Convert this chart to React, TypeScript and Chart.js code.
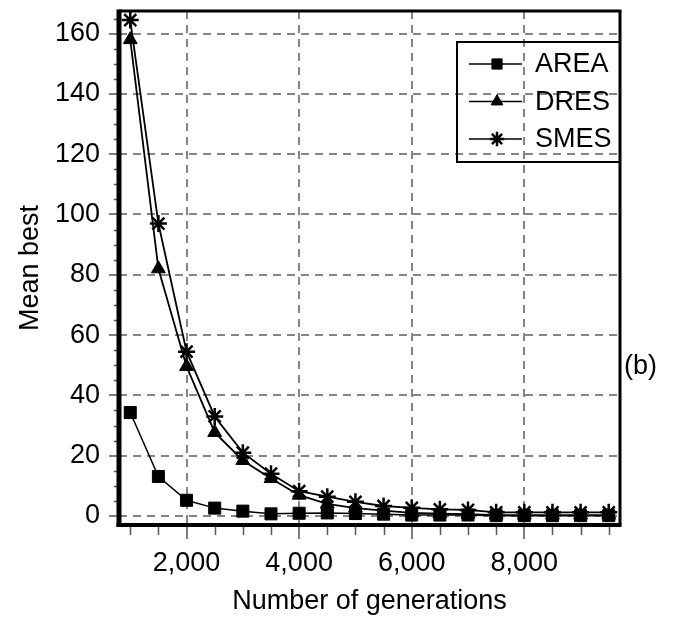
import React, { useEffect, useRef } from 'react';
import { Chart, registerables } from 'chart.js';
import { drawPoint } from 'chart.js/helpers';

Chart.register(...registerables);

// ---- data ----
const generations = [1000, 1500, 2000, 2500, 3000, 3500, 4000, 4500, 5000, 5500, 6000, 6500, 7000, 7500, 8000, 8500, 9000, 9500];
const areaValues = [34.3, 13.1, 5.2, 2.6, 1.6, 0.7, 0.9, 1.0, 0.8, 0.6, 0.3, 0.3, 0.3, 0.1, 0.1, 0.1, 0.1, 0.1];
const dresValues = [158, 82, 49.6, 27.7, 18.4, 12.4, 6.9, 4.0, 2.6, 1.8, 1.0, 0.8, 0.6, 0.3, 0.3, 0.3, 0.3, 0.3];
const smesValues = [164.5, 97, 54.5, 33, 21, 14, 8.2, 6.4, 4.7, 3.3, 2.7, 2.2, 2.0, 1.2, 1.2, 1.2, 1.2, 1.2];
const seriesNames = ['AREA', 'DRES', 'SMES'];
const seriesMarkers = ['rect', 'triangle', 'star'];
const xMajorTicks = [2000, 4000, 6000, 8000];
const yMajorTicks = [0, 20, 40, 60, 80, 100, 120, 140, 160];
const xMinorStep = 500;
const yMinorStep = 5;
const xTitle = 'Number of generations';
const yTitle = 'Mean best';
const panelLabel = '(b)';

const FONT_FAMILY = "'Liberation Sans', Arial, Helvetica, sans-serif";
const FONT_SIZE = 27;

const markerRadius: Record<string, number> = { rect: 8.5, triangle: 8, star: 8.5 };

const framePlugin = {
  id: 'frameAndMinor',
  afterDraw(chart: any) {
    const { ctx, chartArea, scales } = chart;
    const xs = scales.x;
    const ys = scales.y;
    ctx.save();
    // minor ticks
    ctx.strokeStyle = '#555';
    ctx.lineWidth = 1.5;
    ctx.beginPath();
    for (let v = Math.ceil(xs.min / xMinorStep) * xMinorStep; v <= xs.max; v += xMinorStep) {
      if (xMajorTicks.includes(v)) continue;
      const px = Math.round(xs.getPixelForValue(v)) + 0.5;
      ctx.moveTo(px, chartArea.bottom);
      ctx.lineTo(px, chartArea.bottom + 10);
    }
    for (let v = Math.ceil(ys.min / yMinorStep) * yMinorStep; v <= ys.max; v += yMinorStep) {
      if (yMajorTicks.includes(v)) continue;
      const py = Math.round(ys.getPixelForValue(v)) + 0.5;
      ctx.moveTo(chartArea.left, py);
      ctx.lineTo(chartArea.left - 5, py);
    }
    ctx.stroke();

    // frame
    ctx.strokeStyle = '#000';
    const { left, right, top, bottom } = chartArea;
    const line = (w: number, x1: number, y1: number, x2: number, y2: number) => {
      ctx.lineWidth = w;
      ctx.beginPath();
      ctx.moveTo(x1, y1);
      ctx.lineTo(x2, y2);
      ctx.stroke();
    };
    line(3, left, top, right + 1.5, top);
    line(3, right, top, right, bottom);
    line(5, left, top - 1.5, left, bottom + 2);
    line(4, left - 2.5, bottom, right + 1.5, bottom);

    // legend
    const boxLeft = 457;
    const boxTop = 42;
    const boxRight = right;
    const boxBottom = 162;
    ctx.lineWidth = 2;
    ctx.strokeRect(boxLeft, boxTop, boxRight - boxLeft, boxBottom - boxTop);
    ctx.font = `${FONT_SIZE}px ${FONT_FAMILY}`;
    ctx.textBaseline = 'middle';
    ctx.textAlign = 'left';
    chart.data.datasets.forEach((ds: any, i: number) => {
      const cy = 64 + i * 37.5;
      ctx.strokeStyle = '#000';
      ctx.lineWidth = 1.5;
      ctx.beginPath();
      ctx.moveTo(boxLeft + 12, cy);
      ctx.lineTo(boxLeft + 65, cy);
      ctx.stroke();
      ctx.fillStyle = '#000';
      ctx.strokeStyle = '#000';
      ctx.lineWidth = ds.pointBorderWidth;
      drawPoint(ctx, { pointStyle: ds.pointStyle, radius: ds.pointRadius * 0.85, rotation: 0, borderWidth: ds.pointBorderWidth }, boxLeft + 40, cy);
      ctx.fillStyle = '#000';
      ctx.fillText(ds.label, boxLeft + 78, cy + 1);
    });
    ctx.restore();
  },
};

export default function App() {
  const canvasRef = useRef<HTMLCanvasElement | null>(null);

  useEffect(() => {
    const canvas = canvasRef.current;
    if (!canvas) return;
    const seriesValues = [areaValues, dresValues, smesValues];
    const font = { family: FONT_FAMILY, size: FONT_SIZE };
    const chart = new Chart(canvas, {
      type: 'line',
      data: {
        datasets: seriesNames.map((name, i) => ({
          label: name,
          data: generations.map((g, j) => ({ x: g, y: seriesValues[i][j] })),
          borderColor: '#000',
          backgroundColor: '#000',
          borderWidth: i === 0 ? 1.5 : 1.8,
          tension: 0,
          pointStyle: seriesMarkers[i] as any,
          pointRadius: markerRadius[seriesMarkers[i]],
          pointBorderWidth: seriesMarkers[i] === 'star' ? 2.5 : 1,
          pointBackgroundColor: '#000',
          pointBorderColor: '#000',
        })),
      },
      options: {
        animation: false,
        responsive: false,
        events: [],
        layout: { padding: { left: 0, top: 0, right: 54, bottom: 0 } },
        plugins: {
          legend: { display: false },
          tooltip: { enabled: false },
        },
        scales: {
          x: {
            type: 'linear',
            min: 800,
            max: 9700,
            afterBuildTicks: (s: any) => {
              s.ticks = xMajorTicks.map((v) => ({ value: v }));
            },
            afterFit: (s: any) => {
              s.height = 93;
              s.paddingLeft = 0;
              s.paddingRight = 0;
            },
            ticks: {
              autoSkip: false,
              maxRotation: 0,
              minRotation: 0,
              padding: 8,
              color: '#000',
              font,
              callback: (v: any) => Number(v).toLocaleString('en-US'),
            },
            grid: {
              color: '#858585',
              lineWidth: 2,
              tickLength: 14,
              tickColor: '#555',
              tickWidth: 1.5,
            },
            border: { display: false, dash: [8, 6] },
            title: {
              display: true,
              text: xTitle,
              color: '#000',
              font,
              padding: { top: 0, bottom: 0 },
            },
          },
          y: {
            type: 'linear',
            min: -3,
            max: 167.5,
            afterBuildTicks: (s: any) => {
              s.ticks = yMajorTicks.map((v) => ({ value: v }));
            },
            afterFit: (s: any) => {
              s.width = 119;
              s.paddingTop = 0;
              s.paddingBottom = 0;
            },
            ticks: {
              autoSkip: false,
              padding: 9,
              color: '#000',
              font,
              callback: (v: any) => String(v),
            },
            grid: {
              color: '#858585',
              lineWidth: 2,
              tickLength: 10,
              tickColor: '#555',
              tickWidth: 1.5,
            },
            border: { display: false, dash: [8, 6] },
            title: {
              display: true,
              text: yTitle,
              color: '#000',
              font,
              padding: { top: 14, bottom: 0 },
            },
          },
        },
      },
      plugins: [framePlugin],
    });
    return () => chart.destroy();
  }, []);

  return (
    <div style={{ position: 'fixed', left: 0, top: 0, width: 674, height: 618, background: '#fff' }}>
      <canvas ref={canvasRef} width={674} height={618} style={{ display: 'block' }} />
      <span
        style={{
          position: 'absolute',
          left: 624,
          top: 349,
          fontFamily: FONT_FAMILY,
          fontSize: FONT_SIZE,
          lineHeight: '32px',
          color: '#000',
          whiteSpace: 'nowrap',
        }}
      >
        {panelLabel}
      </span>
    </div>
  );
}
